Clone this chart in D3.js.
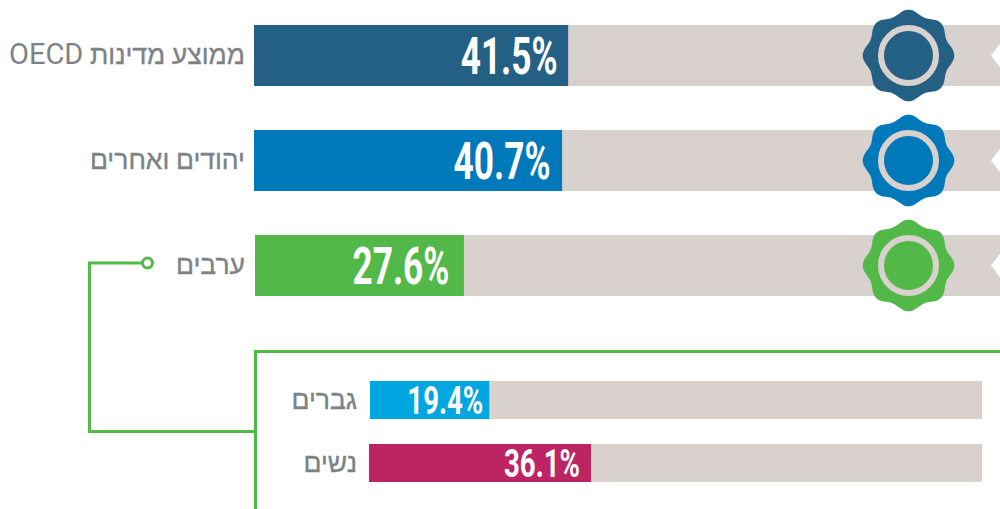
<!DOCTYPE html>
<html lang="he"><head><meta charset="utf-8">
<script src="https://cdn.jsdelivr.net/npm/d3@7/dist/d3.min.js"></script>
<style>html,body{margin:0;padding:0;background:#fff;overflow:hidden}svg{display:block}</style>
</head><body><svg id="c" width="1000" height="509"></svg>
<script>
const mainCategories = ["ממוצע מדינות OECD", "יהודים ואחרים", "ערבים"];
const mainValues = [41.5, 40.7, 27.6];
const mainColors = ["#245f84", "#0079bb", "#52b848"];
const subCategories = ["גברים", "נשים"];
const subValues = [19.4, 36.1];
const subColors = ["#00a6df", "#bc2463"];

const TRACK = "#d9d1ce", LABEL = "#7d8286", GREEN = "#52b848";
const svg = d3.select("#c");
const font = "Roboto, 'Noto Sans', sans-serif";

const xMain = d3.scaleLinear().domain([0, 100]).range([0, 757]);
const xSub = d3.scaleLinear().domain([0, 100]).range([0, 615]);
const yMain = d3.scaleOrdinal().domain(mainCategories).range([25, 130, 235]);
const ySub = d3.scaleOrdinal().domain(subCategories).range([381, 444]);
const mainLeft = [254, 254, 255], subLeft = [370, 369];
const mainEndOffset = [10.5, 11.5, 14.5], subEndOffset = [6, 11];
const mainH = 61, subH = 38;

function label(g, text, x, y, size) {
  const t = g.append("text").attr("x", x).attr("y", y).attr("text-anchor", "start")
    .attr("direction", "rtl").attr("font-family", font).attr("font-size", size).attr("fill", LABEL);
  // the Latin run is set regular and a little larger, the Hebrew run slightly emboldened
  text.split(/(OECD)/).filter(Boolean).forEach(part => {
    const s = t.append("tspan").text(part);
    if (part === "OECD") s.attr("font-size", size + 2.5).attr("font-weight", 400);
    else s.attr("font-weight", 500).attr("stroke", LABEL).attr("stroke-width", 0.35);
  });
}

// connector + panel
svg.append("path").attr("fill", "none").attr("stroke", GREEN).attr("stroke-width", 3)
  .attr("d", d3.line()([[142, 263], [89.5, 263], [89.5, 431.5], [255.5, 431.5]]));
svg.append("path").attr("fill", "none").attr("stroke", GREEN).attr("stroke-width", 3)
  .attr("d", d3.line()([[255.5, 509], [255.5, 351.5], [1000, 351.5]]));
svg.append("circle").attr("cx", 147.5).attr("cy", 263).attr("r", 5).attr("fill", "#fff")
  .attr("stroke", GREEN).attr("stroke-width", 3);

// main rows
const rows = svg.selectAll("g.row").data(mainCategories).join("g").attr("class", "row");
rows.each(function (c, i) {
  const g = d3.select(this), y = yMain(c), left = mainLeft[i], cy = y + mainH / 2;
  g.append("rect").attr("x", left).attr("y", y).attr("width", 1000 - left).attr("height", mainH).attr("fill", TRACK);
  g.append("path").attr("fill", "#fff")
    .attr("d", d3.line()([[1001, cy - 13], [991, cy], [1001, cy + 13]]) + "Z");
  g.append("rect").attr("x", left).attr("y", y).attr("width", xMain(mainValues[i])).attr("height", mainH).attr("fill", mainColors[i]);

  const end = left + xMain(mainValues[i]);
  g.append("text").attr("x", end - mainEndOffset[i]).attr("y", cy + 18.5).attr("text-anchor", "end")
    .attr("font-family", font).attr("font-weight", 700).attr("font-size", 51).attr("fill", "#fff")
    .attr("textLength", 97).attr("lengthAdjust", "spacingAndGlyphs")
    .text(mainValues[i].toFixed(1) + "%");
  label(g, c, 245, cy + 8, 26.5);

  // rosette badge
  const lobes = 8, cx = 908.5, pts = d3.range(0, 96).map(k => {
    const a = k / 96 * 2 * Math.PI;
    return [a, 43.4 + 2.4 * Math.cos(lobes * a)];
  });
  g.append("path").attr("transform", `translate(${cx},${cy})`)
    .attr("d", d3.lineRadial().curve(d3.curveCardinalClosed)(pts)).attr("fill", mainColors[i]);
  g.append("circle").attr("cx", cx).attr("cy", cy).attr("r", 27.5).attr("fill", "none")
    .attr("stroke", TRACK).attr("stroke-width", 6);
});

// sub rows
svg.selectAll("g.sub").data(subCategories).join("g").attr("class", "sub").each(function (c, i) {
  const g = d3.select(this), y = ySub(c), left = subLeft[i], cy = y + subH / 2;
  g.append("rect").attr("x", left).attr("y", y).attr("width", 982 - left).attr("height", subH).attr("fill", TRACK);
  g.append("rect").attr("x", left).attr("y", y).attr("width", xSub(subValues[i])).attr("height", subH).attr("fill", subColors[i]);
  g.append("text").attr("x", left + xSub(subValues[i]) - subEndOffset[i]).attr("y", cy + 14).attr("text-anchor", "end")
    .attr("font-family", font).attr("font-weight", 700).attr("font-size", 39).attr("fill", "#fff")
    .attr("textLength", 76).attr("lengthAdjust", "spacingAndGlyphs")
    .text(subValues[i].toFixed(1) + "%");
  label(g, c, 357, cy + 8.5, 26.5);
});
</script></body></html>
